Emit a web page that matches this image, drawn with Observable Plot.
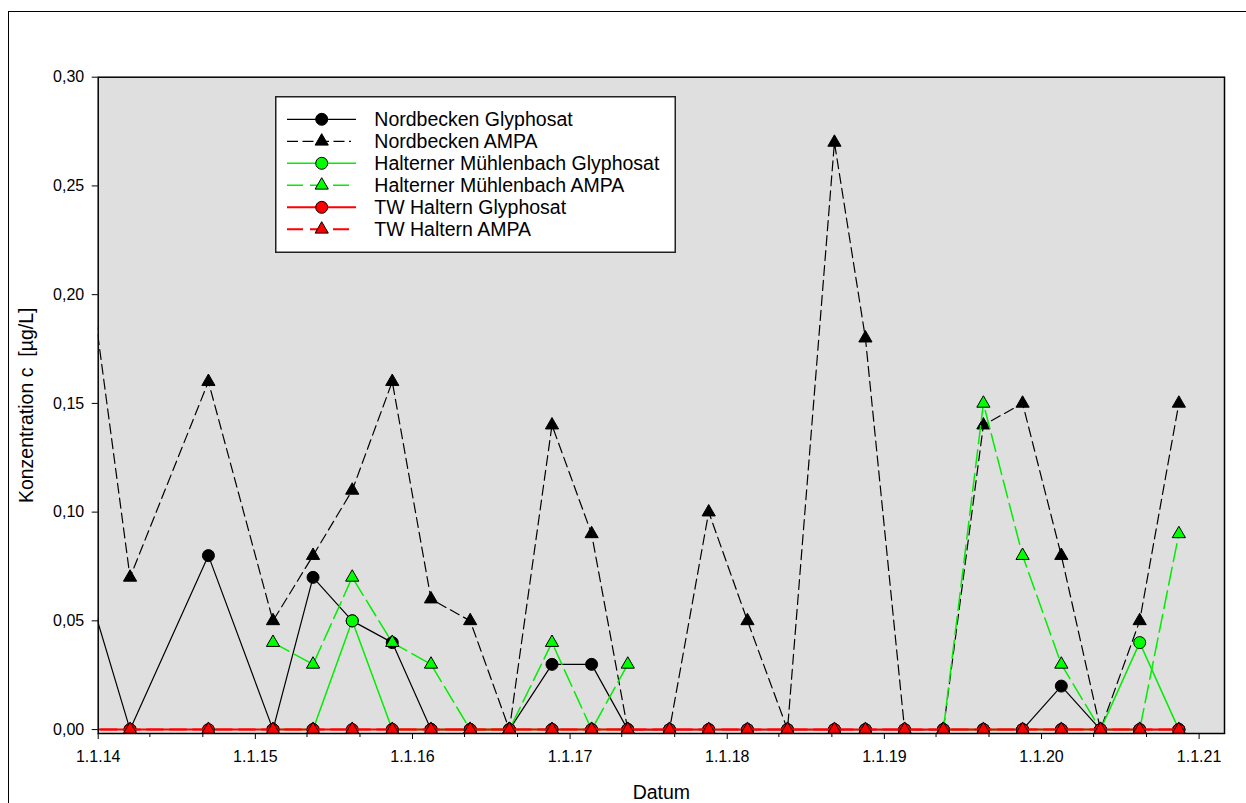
<!DOCTYPE html>
<html>
<head>
<meta charset="utf-8">
<script src="https://cdn.jsdelivr.net/npm/d3@7"></script>
<script src="https://cdn.jsdelivr.net/npm/@observablehq/plot@0.6"></script>
<style>
  html, body { margin: 0; padding: 0; background: #fff; overflow: hidden; }
  #wrap { position: relative; width: 1246px; height: 803px; }
  #outer { position: absolute; left: 8px; top: 11px; width: 1300px; height: 900px; border: 1.5px solid #000; box-sizing: border-box; pointer-events: none; }
  #legend { position: absolute; left: 275px; top: 96px; width: 401px; height: 157px; }
</style>
</head>
<body>
<div id="wrap">
  <div id="chart"></div>
  <div id="outer"></div>
  <div id="legend"></div>
</div>
<script>
// Sampling dates (first one lies before the visible x range and is clipped)
const dates = [
  "2013-11-15", "2014-03-16", "2014-09-14", "2015-02-11", "2015-05-15", "2015-08-14",
  "2015-11-15", "2016-02-13", "2016-05-14", "2016-08-13", "2016-11-20", "2017-02-20",
  "2017-05-15", "2017-08-20", "2017-11-19", "2018-02-17", "2018-05-21", "2018-09-07",
  "2018-11-18", "2019-02-17", "2019-05-18", "2019-08-19", "2019-11-18", "2020-02-16",
  "2020-05-17", "2020-08-16", "2020-11-15"
];

// Concentrations in µg/L (null = no measurement)
const nordbeckenGlyphosat = [0.08, 0, 0.08, 0, 0.07, 0.05, 0.04, 0, 0, 0, 0.03, 0.03, 0, 0, 0, 0, 0, 0, 0, 0, 0, 0, 0, 0.02, 0, 0, 0];
const nordbeckenAMPA      = [0.25, 0.07, 0.16, 0.05, 0.08, 0.11, 0.16, 0.06, 0.05, 0, 0.14, 0.09, 0, 0, 0.10, 0.05, 0, 0.27, 0.18, 0, 0, 0.14, 0.15, 0.08, 0, 0.05, 0.15];
const muehlenbachGlyphosat = [null, null, null, 0, 0, 0.05, 0, 0, 0, 0, 0, 0, 0, null, null, null, null, null, null, null, 0, 0, 0, 0, 0, 0.04, 0];
const muehlenbachAMPA      = [null, null, null, 0.04, 0.03, 0.07, 0.04, 0.03, 0, 0, 0.04, 0, 0.03, null, null, null, null, null, null, null, 0, 0.15, 0.08, 0.03, 0, 0, 0.09];
const twGlyphosat = [0, 0, 0, 0, 0, 0, 0, 0, 0, 0, 0, 0, 0, 0, 0, 0, 0, 0, 0, 0, 0, 0, 0, 0, 0, 0, 0];
const twAMPA      = [0, 0, 0, 0, 0, 0, 0, 0, 0, 0, 0, 0, 0, 0, 0, 0, 0, 0, 0, 0, 0, 0, 0, 0, 0, 0, 0];

const seriesNames = [
  "Nordbecken Glyphosat", "Nordbecken AMPA",
  "Halterner Mühlenbach Glyphosat", "Halterner Mühlenbach AMPA",
  "TW Haltern Glyphosat", "TW Haltern AMPA"
];
const seriesValues = [nordbeckenGlyphosat, nordbeckenAMPA, muehlenbachGlyphosat, muehlenbachAMPA, twGlyphosat, twAMPA];

const yTicks = [0, 0.05, 0.10, 0.15, 0.20, 0.25, 0.30];
const xDomain = ["2014-01-01", "2021-03-01"];

// styles
const styles = [
  {line: "#000000", fill: "#000000", dash: null,   width: 1.2, symbol: "circle",   r: 6},
  {line: "#000000", fill: "#000000", dash: "10,5", width: 1.2, symbol: "triangle", r: 4.9},
  {line: "#00ee00", fill: "#00ff00", dash: null,   width: 1.5, symbol: "circle",   r: 6},
  {line: "#00ee00", fill: "#00ff00", dash: "18,6", width: 1.5, symbol: "triangle", r: 4.9},
  {line: "#ff0000", fill: "#ff0000", dash: null,   width: 2,   symbol: "circle",   r: 6},
  {line: "#ff0000", fill: "#ff0000", dash: "16,7", width: 2,   symbol: "triangle", r: 4.9}
];

const font = "'Liberation Sans', Arial, sans-serif";
const seriesMarks = [];
seriesValues.forEach((vals, k) => {
  const s = styles[k];
  const rows = dates.map((d, i) => ({date: new Date(d), value: vals[i], series: seriesNames[k]}));
  seriesMarks.push(Plot.line(rows, {x: "date", y: "value", stroke: s.line, strokeWidth: s.width, strokeDasharray: s.dash, clip: true}));
  seriesMarks.push(Plot.dot(rows, {x: "date", y: "value", symbol: s.symbol, r: s.r, fill: s.fill, stroke: "#000", strokeWidth: 1, clip: true}));
});

const start = new Date(xDomain[0]), end = new Date(xDomain[1]);
const majorTicks = d3.utcYear.range(start, end);
const minorTicks = d3.utcMonth.every(4).range(start, end).filter(d => d.getUTCMonth() !== 0);

const chart = Plot.plot({
  width: 1246,
  height: 803,
  marginLeft: 97.7,
  marginRight: 22,
  marginTop: 76.7,
  marginBottom: 70,
  style: {fontFamily: font, fontSize: "16px", color: "#000", background: "transparent"},
  x: {type: "utc", domain: [start, end]},
  y: {domain: [-0.0018, 0.30]},
  marks: [
    Plot.frame({fill: "#dfdfdf", stroke: "none"}),
    Plot.axisY({ticks: yTicks, tickFormat: d => d3.format(".2f")(d).replace(".", ","), tickSize: 6, tickPadding: 8, label: null, fontSize: 16}),
    Plot.axisX({ticks: majorTicks, tickFormat: d => "1.1." + String(d.getUTCFullYear()).slice(2), tickSize: 6, tickPadding: 11, label: null, fontSize: 16}),
    Plot.axisX({ticks: minorTicks, tickFormat: () => "", tickSize: 4, label: null}),
    ...seriesMarks,
    Plot.frame({stroke: "#000", strokeWidth: 1.5}),
    Plot.text(["Datum"], {frameAnchor: "bottom", textAnchor: "middle", lineAnchor: "middle", dy: 59, fontSize: 19.5, fill: "#000"}),
    Plot.text(["Konzentration c\u00a0 [µg/L]"], {frameAnchor: "left", textAnchor: "middle", lineAnchor: "middle", rotate: -90, dx: -71, fontSize: 19.5, fill: "#000"})
  ]
});
document.getElementById("chart").appendChild(chart);

// Legend
const lg = d3.select("#legend").append("svg").attr("width", 401).attr("height", 157)
  .style("display", "block").style("font-family", font);
lg.append("rect").attr("x", 0.75).attr("y", 0.75).attr("width", 399.5).attr("height", 155.5)
  .attr("fill", "#fff").attr("stroke", "#222").attr("stroke-width", 1.5);
seriesNames.forEach((name, i) => {
  const s = styles[i];
  const y = 23.3 + i * 22;
  const x2 = s.dash ? 76 : 81;
  lg.append("line").attr("x1", 12).attr("x2", x2).attr("y1", y).attr("y2", y)
    .attr("stroke", s.line).attr("stroke-width", s.width)
    .attr("stroke-dasharray", s.dash ? (i === 1 ? "11,4.5" : "16,7") : null);
  const sym = s.symbol === "circle" ? d3.symbolCircle : d3.symbolTriangle;
  lg.append("path").attr("d", d3.symbol(sym, s.r * s.r * Math.PI)())
    .attr("transform", `translate(46.7,${y})`)
    .attr("fill", s.fill).attr("stroke", "#000").attr("stroke-width", 1);
  lg.append("text").attr("x", 99.3).attr("y", y).attr("dy", "0.35em")
    .attr("font-size", 19.5).attr("fill", "#000").text(name);
});
</script>
</body>
</html>
